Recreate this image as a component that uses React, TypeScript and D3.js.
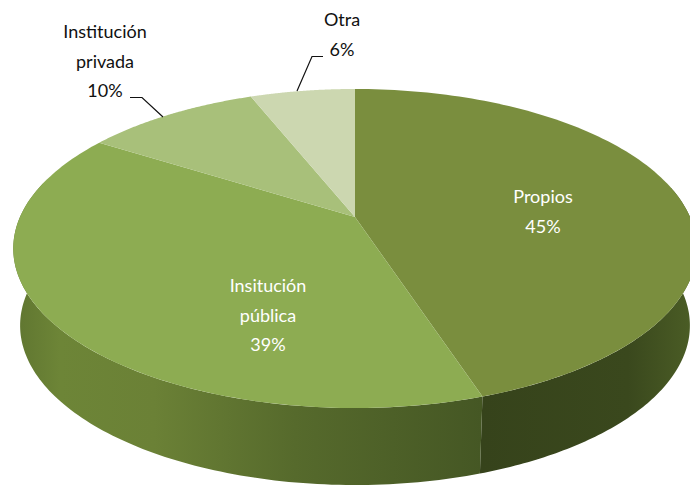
import React from "react";
import * as d3 from "d3";

const categories = ["Propios", "Insitución pública", "Institución privada", "Otra"];
const values = [45, 39, 10, 6];
const topColors = ["#7a8e3e", "#8dac52", "#a8c07a", "#ccd7b0"];

const apex = { x: 355, y: 217 };
const persp = 0.1975;
const scaleX = 335;
const scaleY = 153.3;
const depth = 77;
const shrink = 0.98;

function rim(a: number, bottom = false) {
  const u = Math.sin(a);
  const v = Math.cos(a);
  const d = 1 + persp * v;
  const s = bottom ? shrink : 1;
  return [apex.x + (s * scaleX * u) / d, apex.y - (scaleY * v) / d + (bottom ? depth : 0)] as [number, number];
}

function arcPoints(a0: number, a1: number, bottom = false) {
  return d3.range(0, 121).map((i) => rim(a0 + ((a1 - a0) * i) / 120, bottom));
}

export default function App() {
  const arcs = d3.pie<number>().sort(null)(values);
  const line = d3.line();
  const wedge = (a0: number, a1: number) =>
    line([[apex.x, apex.y], ...arcPoints(a0, a1)])! + "Z";
  const side = (a0: number, a1: number) =>
    line([...arcPoints(a0, a1), ...arcPoints(a0, a1, true).reverse()])! + "Z";
  const fs = 18;
  const font = "Lato, 'Open Sans', sans-serif";
  const text = (lines: string[], x: number, y: number, fill: string) => (
    <text x={x} y={y} textAnchor="middle" fontFamily={font} fontSize={fs} fill={fill}>
      {lines.map((l, i) => (
        <tspan key={i} x={x} dy={i === 0 ? 0 : 29.5}>{l}</tspan>
      ))}
    </text>
  );
  return (
    <svg width={690} height={486} style={{ position: "absolute", left: 0, top: 0 }}>
      <defs>
        <linearGradient id="sideA" gradientUnits="userSpaceOnUse" x1={13} x2={482} y1={0} y2={0}>
          <stop offset="0" stopColor="#5f7530" />
          <stop offset="0.1" stopColor="#6d8537" />
          <stop offset="0.3" stopColor="#6b8136" />
          <stop offset="0.6" stopColor="#566a2c" />
          <stop offset="1" stopColor="#455724" />
        </linearGradient>
        <linearGradient id="sideB" gradientUnits="userSpaceOnUse" x1={482} x2={690} y1={0} y2={0}>
          <stop offset="0" stopColor="#36431b" />
          <stop offset="0.7" stopColor="#3a481d" />
          <stop offset="1" stopColor="#4a5c25" />
        </linearGradient>
      </defs>
      <path d={side(arcs[0].startAngle + Math.PI / 2 - 0.2, arcs[0].endAngle)} fill="url(#sideB)" />
      <path d={side(arcs[1].startAngle, arcs[1].endAngle - 0.33)} fill="url(#sideA)" />
      {arcs.map((a, i) => (
        <path key={categories[i]} d={wedge(a.startAngle, a.endAngle)} fill={topColors[i]} />
      ))}
      {text(["Propios", "45%"], 543, 203, "#ffffff")}
      {text(["Insitución", "pública", "39%"], 268, 292, "#ffffff")}
      {text(["Institución", "privada", "10%"], 105, 38, "#111111")}
      {text(["Otra", "6%"], 342, 26, "#111111")}
      <path d="M130,97.5 L142,97.5 L163,117" fill="none" stroke="#111" strokeWidth={1.2} />
      <path d="M323,56.5 L312,56.5 L297,91" fill="none" stroke="#111" strokeWidth={1.2} />
    </svg>
  );
}
